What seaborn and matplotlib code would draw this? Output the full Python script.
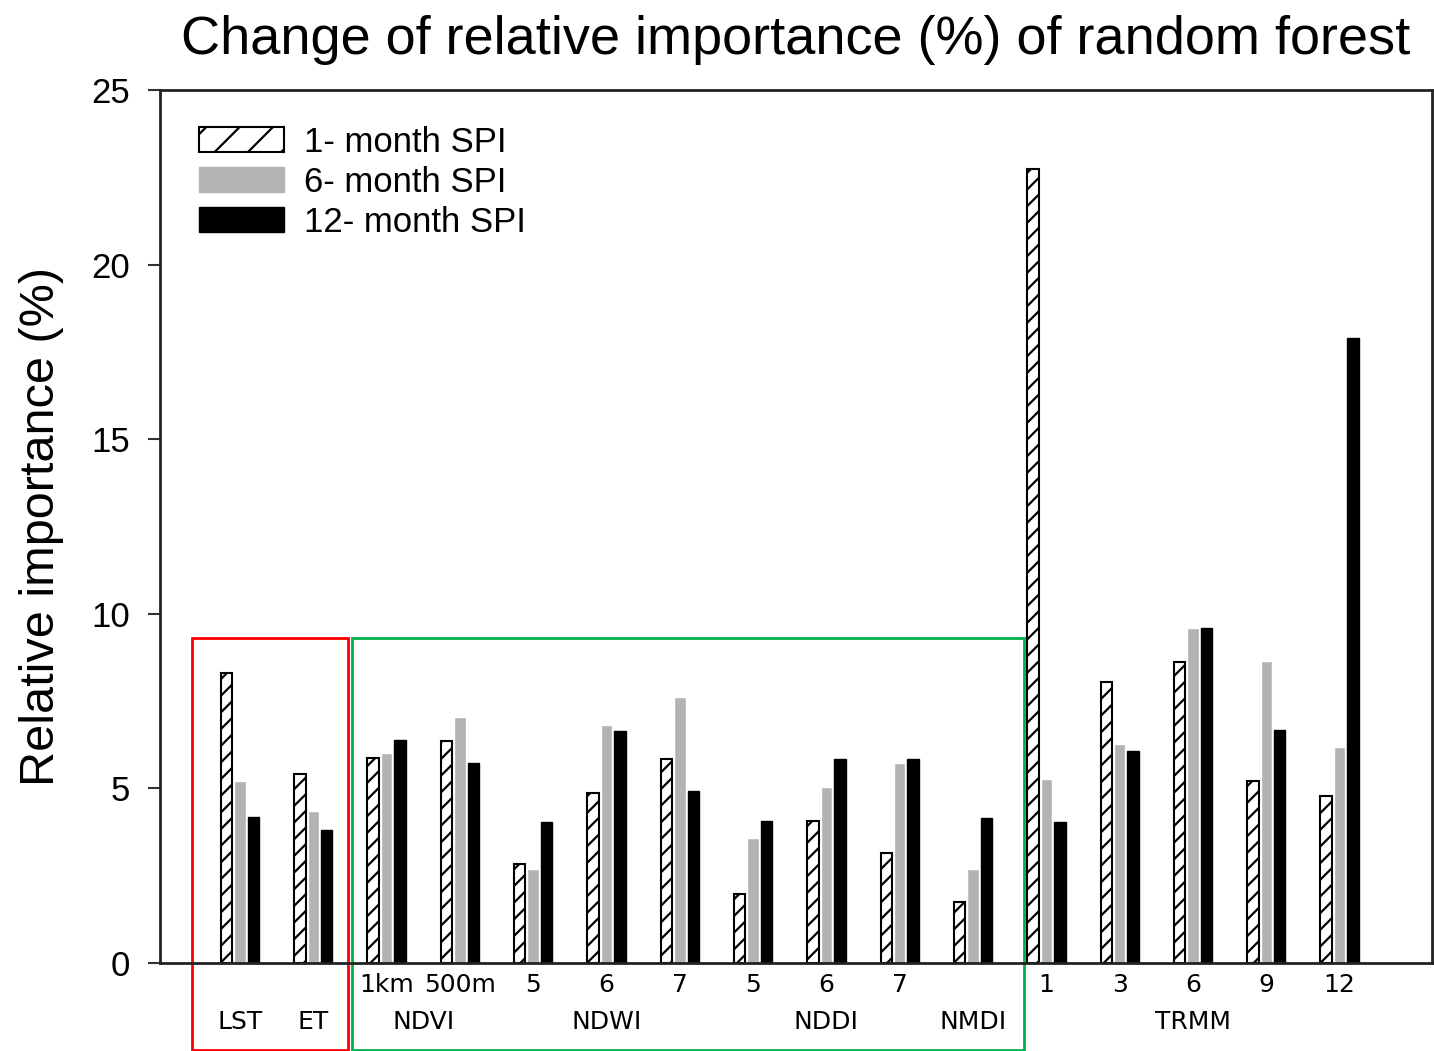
import numpy as np
import pandas as pd
import matplotlib
matplotlib.use('Agg')
import matplotlib.pyplot as plt
import matplotlib.transforms as mtransforms
from matplotlib.patches import Patch, Rectangle
import seaborn as sns

# bar groups (unique keys), first-row tick labels and second-row group names
groups = ['LST', 'ET', 'NDVI_1km', 'NDVI_500m', 'NDWI_5', 'NDWI_6', 'NDWI_7',
          'NDDI_5', 'NDDI_6', 'NDDI_7', 'NMDI', 'TRMM_1', 'TRMM_3', 'TRMM_6',
          'TRMM_9', 'TRMM_12']
tick_labels = ['', '', '1km', '500m', '5', '6', '7', '5', '6', '7', '',
               '1', '3', '6', '9', '12']
group_names = ['LST', 'ET', 'NDVI', 'NDWI', 'NDDI', 'NMDI', 'TRMM']
group_name_pos = [0, 1, 2.5, 5, 8, 10, 13]

series = ['1- month SPI', '6- month SPI', '12- month SPI']
spi1 = [8.30, 5.41, 5.86, 6.36, 2.85, 4.86, 5.83, 1.99, 4.08, 3.16, 1.76,
        22.75, 8.04, 8.62, 5.20, 4.79]
spi6 = [5.22, 4.35, 6.02, 7.04, 2.68, 6.82, 7.63, 3.59, 5.05, 5.74, 2.70,
        5.28, 6.27, 9.60, 8.65, 6.19]
spi12 = [4.17, 3.81, 6.39, 5.74, 4.05, 6.65, 4.93, 4.07, 5.83, 5.85, 4.14,
         4.05, 6.07, 9.60, 6.68, 17.89]

df = pd.DataFrame({
    'group': groups * 3,
    'series': np.repeat(series, len(groups)),
    'value': spi1 + spi6 + spi12,
})

sns.set_style('white')
plt.rcParams['font.family'] = ['Liberation Sans', 'DejaVu Sans']
for k in ['text.color', 'axes.labelcolor', 'xtick.color', 'ytick.color']:
    plt.rcParams[k] = 'black'
plt.rcParams['hatch.linewidth'] = 1.6

fig = plt.figure(figsize=(14.34, 10.51), dpi=100)
ax = fig.add_axes([0.1116, 0.0837, 0.887, 0.8307])

sns.barplot(data=df, x='group', y='value', hue='series', order=groups,
            hue_order=series, palette=['white', '#b3b3b3', 'black'],
            width=0.55, gap=0.15, legend=False, ax=ax, saturation=1)

# hatched style for the 1-month bars
for bar in ax.containers[0]:
    bar.set_facecolor('white')
    bar.set_edgecolor('black')
    bar.set_hatch('//')
    bar.set_linewidth(1.5)
for bar in ax.containers[2]:
    bar.set_edgecolor('black')

ax.set_xlim(-1.09, 16.26)
ax.set_ylim(0, 25)
ax.set_yticks([0, 5, 10, 15, 20, 25])
ax.tick_params(axis='y', labelsize=25, length=8.6, width=1.5, direction='out',
               left=True, pad=13, color='#333333')
ax.set_xticks(range(len(groups)))
ax.set_xticklabels(tick_labels, family='DejaVu Sans', fontsize=18)
ax.tick_params(axis='x', length=0, pad=7)
ax.set_xlabel('')
ax.set_ylabel('Relative importance (%)', fontsize=35, labelpad=20)
for s in ax.spines.values():
    s.set_color('#222222')
    s.set_linewidth(2)

ax.set_title('Change of relative importance (%) of random forest',
             fontsize=39, pad=26)

# second row of group names
trans = mtransforms.blended_transform_factory(ax.transData, ax.transAxes)
for name, pos in zip(group_names, group_name_pos):
    ax.text(pos, -0.068, name, transform=trans, ha='center', va='center',
            fontsize=18, family='DejaVu Sans')

# red and green boxes around groups
btrans = mtransforms.blended_transform_factory(ax.transData, fig.transFigure)
ax.add_patch(Rectangle((-0.655, 0.001), 2.125, 0.392, transform=btrans,
                       fill=False, edgecolor='#ff0000', lw=2, clip_on=False))
ax.add_patch(Rectangle((1.53, 0.001), 9.17, 0.392, transform=btrans,
                       fill=False, edgecolor='#00b050', lw=2, clip_on=False))

handles = [Patch(facecolor='white', edgecolor='black', hatch='/', lw=1.5),
           Patch(facecolor='#b3b3b3', edgecolor='#b3b3b3'),
           Patch(facecolor='black', edgecolor='black')]
ax.legend(handles, series, loc='upper left', bbox_to_anchor=(0.031, 0.959),
          frameon=False, fontsize=25, handlelength=2.43, handleheight=0.71,
          handletextpad=0.57, labelspacing=0.2, borderpad=0, borderaxespad=0)

fig.savefig('out.png', dpi=100)
